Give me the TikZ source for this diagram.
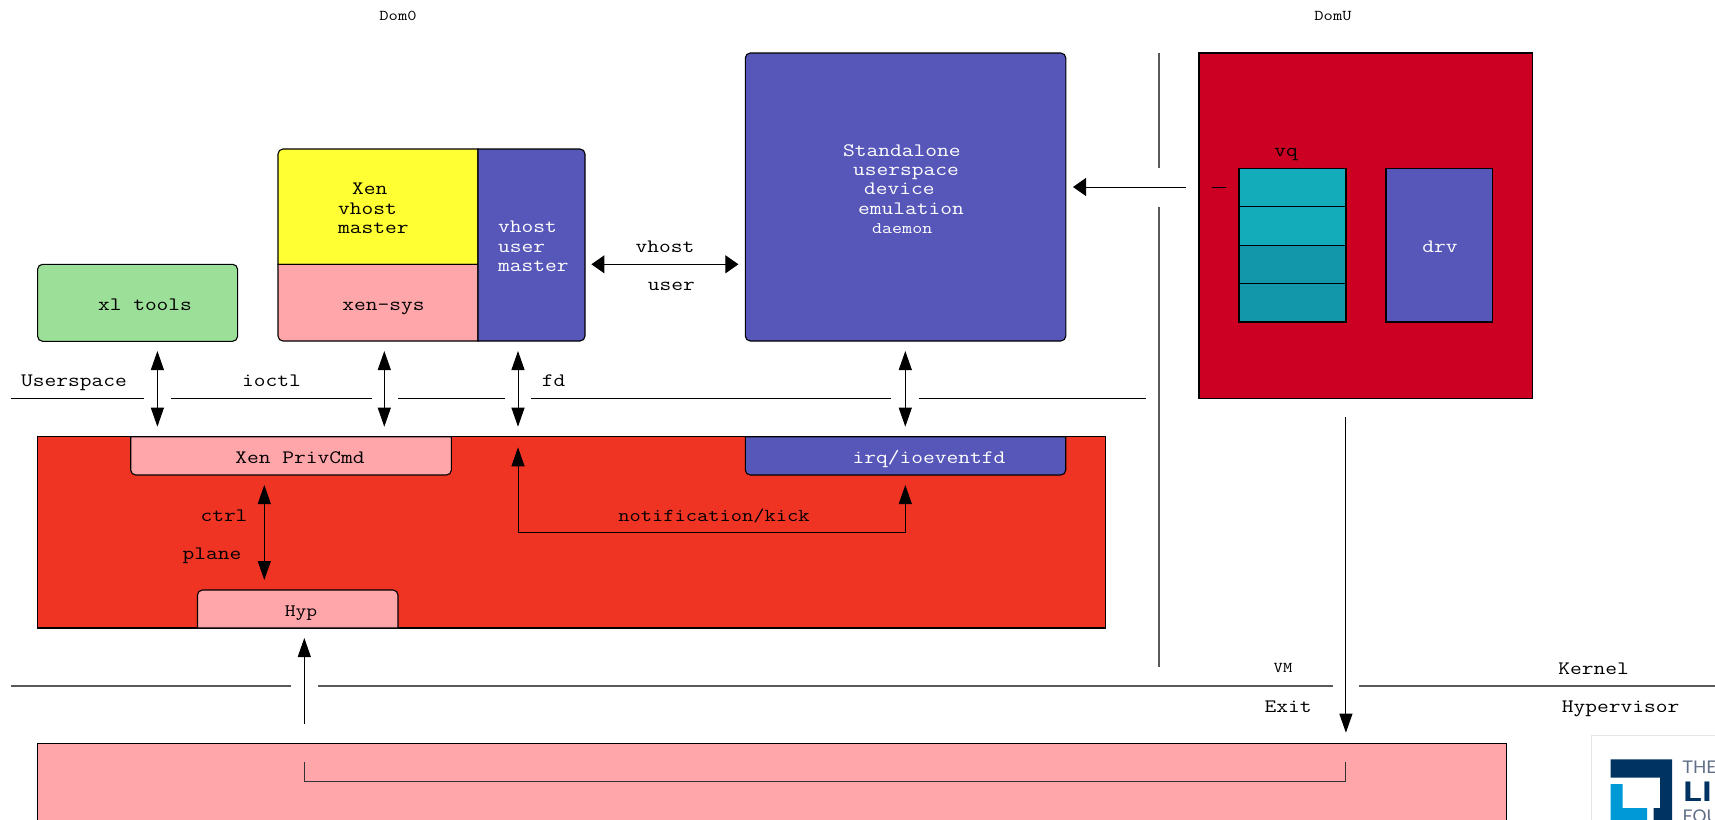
\documentclass[tikz,border=0pt]{standalone}
\usepackage{xcolor}
\usepackage{fontspec}
\setmonofont[FakeStretch=1.2]{Latin Modern Mono}
\newfontfamily\logofont{Lato}
\newfontfamily\logobold[FakeStretch=1.35]{Lato}
\usetikzlibrary{arrows.meta,positioning}
\definecolor{domured}{RGB}{204,0,34}
\definecolor{kernred}{RGB}{240,52,36}
\definecolor{softpink}{RGB}{255,166,170}
\definecolor{daemonblue}{RGB}{87,87,186}
\definecolor{softgreen}{RGB}{156,223,152}
\definecolor{xenyellow}{RGB}{255,255,51}
\definecolor{vqlight}{RGB}{18,172,187}
\definecolor{vqdark}{RGB}{18,151,170}
\definecolor{lognavy}{RGB}{0,50,98}
\definecolor{logcyan}{RGB}{0,153,216}
\definecolor{loggrey}{RGB}{96,110,135}
\newcommand{\lblfont}{\fontsize{19}{19.2}\selectfont\ttfamily}
\newcommand{\smallfont}{\fontsize{16.2}{19.2}\selectfont\ttfamily}
\newcommand{\tinyfont}{\fontsize{15}{16}\selectfont\ttfamily}
\tikzset{
  plainbox/.style={draw=black, line width=1.1pt, inner sep=0pt, outer sep=0pt, anchor=north west},
  roundbox/.style={plainbox, rounded corners=5pt},
  tabpath/.style={draw=black, line width=1.1pt},
  lbl/.style={font=\lblfont, inner sep=0pt, anchor=base},
  lblsmall/.style={font=\smallfont, inner sep=0pt, anchor=base},
  lbltiny/.style={font=\tinyfont, inner sep=0pt, anchor=base},
  lines/.style={font=\lblfont, inner sep=0pt, align=left, anchor=north west},
  vflow/.style={{Triangle[length=19pt,width=13pt]}-{Triangle[length=19pt,width=13pt]}, line width=1pt},
  upflow/.style={-{Triangle[length=19pt,width=13pt]}, line width=1pt},
  hflow/.style={{Triangle[length=13pt,width=18pt]}-{Triangle[length=13pt,width=18pt]}, line width=1pt},
  leftflow/.style={-{Triangle[length=13pt,width=18pt]}, line width=1pt},
  sepline/.style={draw=black!65, line width=1.1pt},
  thinline/.style={draw=black, line width=1pt}
}
\begin{document}
\begin{tikzpicture}[x=1pt,y=-1pt]
\useasboundingbox (0,0) rectangle (1715,819);
\clip (0,0) rectangle (1715,819);

% boxes
\node[plainbox, fill=white, draw=black!10, line width=.6pt, minimum width=140pt, minimum height=100pt] (logobg) at (1591,735) {};
\node[roundbox, fill=softgreen, minimum width=200pt, minimum height=77pt] (xltools) at (37.6,264.3) {};
\node[roundbox, fill=daemonblue, minimum width=320.5pt, minimum height=288pt] (daemon) at (745.3,53) {};
\node[plainbox, fill=domured, minimum width=333.7pt, minimum height=345.3pt] (domu) at (1199,53) {};
\node[plainbox, fill=kernred, minimum width=1068.2pt, minimum height=191.3pt] (kernel) at (37.5,436.7) {};
\node[plainbox, fill=softpink, minimum width=1469.2pt, minimum height=100pt] (hypbox) at (37.5,743.3) {};

% xen block, rounded on the outside only
\draw[tabpath, fill=xenyellow] (278,264.3) [rounded corners=5pt] -- (278,149) [sharp corners] -- (478,149) -- (478,264.3) -- cycle;
\draw[tabpath, fill=softpink] (478,264.3) -- (278,264.3) [rounded corners=5pt] -- (278,341) [sharp corners] -- (478,341) -- cycle;
\draw[tabpath, fill=daemonblue] (478,149) [rounded corners=5pt] -- (585,149) -- (585,341) [sharp corners] -- (478,341) -- cycle;

% tabs on the red box
\draw[tabpath, fill=softpink] (130.7,436.7) [rounded corners=5pt] -- (130.7,475) -- (451.4,475) [sharp corners] -- (451.4,436.7) -- cycle;
\draw[tabpath, fill=daemonblue] (745.3,436.7) [rounded corners=5pt] -- (745.3,475) -- (1065.7,475) [sharp corners] -- (1065.7,436.7) -- cycle;
\draw[tabpath, fill=softpink] (197.5,628) [rounded corners=5pt] -- (197.5,590) -- (398,590) [sharp corners] -- (398,628) -- cycle;

% guest
\node[plainbox, fill=vqlight, minimum width=107pt, minimum height=38.4pt] (vqa) at (1239,168.3) {};
\node[plainbox, fill=vqlight, minimum width=107pt, minimum height=38.6pt] (vqb) at (1239,206.7) {};
\node[plainbox, fill=vqdark, minimum width=107pt, minimum height=38pt] (vqc) at (1239,245.3) {};
\node[plainbox, fill=vqdark, minimum width=107pt, minimum height=38.7pt] (vqd) at (1239,283.3) {};
\node[plainbox, fill=daemonblue, minimum width=106.7pt, minimum height=153.7pt] (drv) at (1386,168.3) {};

% connector ends
\coordinate (xlup) at (157.4,351);
\coordinate (xldown) at (157.4,426.7);
\coordinate (sysup) at (384.3,351);
\coordinate (sysdown) at (384.3,426.7);
\coordinate (fdup) at (518,351);
\coordinate (fddown) at (518,426.7);
\coordinate (emuup) at (905.3,351);
\coordinate (emudown) at (905.3,426.7);
\coordinate (vhostleft) at (591.4,264.3);
\coordinate (vhostright) at (738.4,264.3);
\coordinate (vqtail) at (1186,187);
\coordinate (vqtip) at (1073,187);
\coordinate (dashleft) at (1212,187);
\coordinate (dashright) at (1226,187);
\coordinate (kickfd) at (518,447.3);
\coordinate (kickirq) at (905.3,485);
\coordinate (ctrltop) at (264.3,485);
\coordinate (ctrlbot) at (264.3,580);
\coordinate (hyptip) at (304.3,638);
\coordinate (hyptail) at (304.3,724);
\coordinate (exittail) at (1345.9,417);
\coordinate (exittip) at (1345.9,732.7);
\coordinate (bracketl) at (304.3,762);
\coordinate (bracketr) at (1345.9,762);
\coordinate (domtop) at (1159,53);
\coordinate (domgapa) at (1159,168.3);
\coordinate (domgapb) at (1159,206.7);
\coordinate (dombot) at (1159,666.7);
\coordinate (ua) at (10.7,398.3);
\coordinate (ub) at (144.3,398.3);
\coordinate (uc) at (170.8,398.3);
\coordinate (ud) at (371.7,398.3);
\coordinate (ue) at (398.2,398.3);
\coordinate (uf) at (505,398.3);
\coordinate (ug) at (531.4,398.3);
\coordinate (uh) at (891.4,398.3);
\coordinate (ui) at (918.8,398.3);
\coordinate (uj) at (1145.5,398.3);
\coordinate (ka) at (11,686);
\coordinate (kb) at (291,686);
\coordinate (kc) at (317.9,686);
\coordinate (kd) at (1332.5,686);
\coordinate (ke) at (1359.2,686);
\coordinate (kf) at (1715,686);

\draw[sepline] (domtop) -- (domgapa);
\draw[sepline] (domgapb) -- (dombot);
\draw[thinline] (ua) -- (ub);
\draw[thinline] (uc) -- (ud);
\draw[thinline] (ue) -- (uf);
\draw[thinline] (ug) -- (uh);
\draw[thinline] (ui) -- (uj);
\draw[sepline] (ka) -- (kb);
\draw[sepline] (kc) -- (kd);
\draw[sepline] (ke) -- (kf);

\draw[vflow] (xlup) -- (xldown);
\draw[vflow] (sysup) -- (sysdown);
\draw[vflow] (fdup) -- (fddown);
\draw[vflow] (emuup) -- (emudown);
\draw[hflow] (vhostleft) -- (vhostright);
\draw[leftflow] (vqtail) -- (vqtip);
\draw[thinline] (dashleft) -- (dashright);
\draw[vflow] (kickfd) -- ++(0,85.4) -| (kickirq);
\draw[vflow] (ctrltop) -- (ctrlbot);
\draw[upflow] (hyptail) -- (hyptip);
\draw[upflow] (exittail) -- (exittip);
\draw[thinline, draw=black!80, line width=1.1pt] (bracketl) -- ++(0,19.7) -| (bracketr);

% labels
\node[lbltiny] (dom0lbl) at (398,20.7) {Dom0};
\node[lbltiny] (domulbl) at (1333,20.7) {DomU};
\node[lbl] (xllbl) at (145,310) {xl tools};
\node[lbl] (syslbl) at (383.5,310) {xen—sys};
\node[lines] (xenlbl) at (338,183) {\hspace*{14pt}Xen\\vhost\\master};
\node[lines, text=white] (masterlbl) at (498,221) {vhost\\user\\master};
\node[lines, text=white] (daemonlbl) at (843,144.5) {Standalone\\\hspace*{10pt}userspace\\\hspace*{21pt}device\\\hspace*{15pt}emulation\\\smallfont\hspace*{29pt}daemon};
\node[lbl] (userspacelbl) at (74,386.5) {Userspace};
\node[lbl] (ioctllbl) at (271.5,386.5) {ioctl};
\node[lbl] (fdlbl) at (553.5,386.5) {fd};
\node[lbl] (vhostlbl) at (665,252.3) {vhost};
\node[lbl] (userlbl) at (671.4,290.7) {user};
\node[lbl] (privlbl) at (300,463.3) {Xen PrivCmd};
\node[lbl, text=white] (irqlbl) at (929,463.3) {irq/ioeventfd};
\node[lbl, font=\fontsize{18.2}{19.2}\selectfont\ttfamily] (kicklbl) at (714,521) {notification/kick};
\node[lbl] (ctrllbl) at (224,521) {ctrl};
\node[lbl] (planelbl) at (212,559.3) {plane};
\node[lblsmall, font=\fontsize{17.5}{19.2}\selectfont\ttfamily] (hyplbl) at (301,616.7) {Hyp};
\node[lbl] (vqlbl) at (1286,156) {vq};
\node[lbl, text=white] (drvlbl) at (1440,252.3) {drv};
\node[lbltiny] (vmlbl) at (1283,672.7) {VM};
\node[lbl] (exitlbl) at (1288,712) {Exit};
\node[lbl] (kernellbl) at (1593.7,674) {Kernel};
\node[lbl] (hvlbl) at (1620.6,712) {Hypervisor};

% logo
\fill[lognavy] (1610.7,759.3) -- (1672,759.3) -- (1672,830) -- (1653.7,830) -- (1653.7,808) -- (1660,808) -- (1660,777.7) -- (1610.7,777.7) -- cycle;
\fill[logcyan] (1610.7,784) -- (1622.7,784) -- (1622.7,808) -- (1647,808) -- (1647,830) -- (1610.7,830) -- cycle;
\node[inner sep=0pt, anchor=base west, text=loggrey, font=\logofont\fontsize{17.5}{18}\selectfont] (logothe) at (1682.5,773.5) {THE};
\node[inner sep=0pt, anchor=base west, text=lognavy, font=\logobold\bfseries\fontsize{27}{27}\selectfont] (logoli) at (1682.5,801) {LI};
\node[inner sep=0pt, anchor=base west, text=loggrey, font=\logofont\fontsize{17.5}{18}\selectfont] (logofou) at (1682.5,822) {FOU};
\end{tikzpicture}
\end{document}
